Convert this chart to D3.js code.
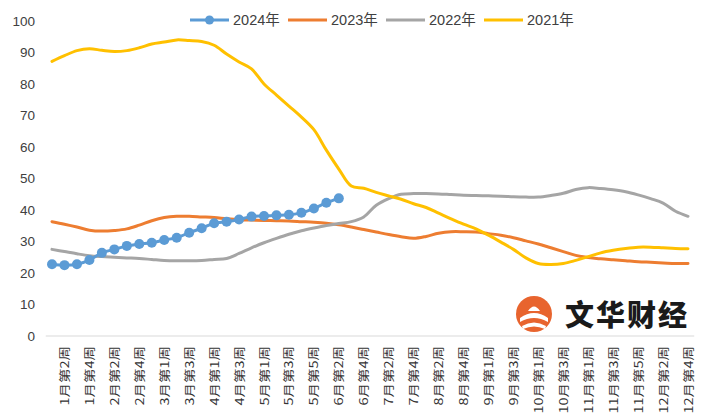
<!DOCTYPE html>
<html>
<head>
<meta charset="utf-8">
<script src="https://cdn.jsdelivr.net/npm/d3@7/dist/d3.min.js"></script>
<style>
  html, body { margin: 0; padding: 0; background: #fff; }
  svg { display: block; }
</style>
</head>
<body>
<svg id="chart" width="719" height="417"></svg>
<script>
// ---------- data ----------
const categories = [
  "1月第1周","1月第2周","1月第3周","1月第4周","2月第1周","2月第2周","2月第3周","2月第4周",
  "2月第5周","3月第1周","3月第2周","3月第3周","3月第4周","4月第1周","4月第2周","4月第3周",
  "4月第4周","5月第1周","5月第2周","5月第3周","5月第4周","5月第5周","6月第1周","6月第2周",
  "6月第3周","6月第4周","7月第1周","7月第2周","7月第3周","7月第4周","8月第1周","8月第2周",
  "8月第3周","8月第4周","8月第5周","9月第1周","9月第2周","9月第3周","9月第4周","10月第1周",
  "10月第2周","10月第3周","10月第4周","11月第1周","11月第2周","11月第3周","11月第4周","11月第5周",
  "12月第1周","12月第2周","12月第3周","12月第4周"
];
const yTicks = [0,10,20,30,40,50,60,70,80,90,100];
const seriesNames = ["2024年","2023年","2022年","2021年"];

const s2024 = [22.8,22.5,22.8,24.1,26.4,27.5,28.6,29.2,29.6,30.5,31.2,32.8,34.2,35.8,36.3,37.0,
  37.9,38.1,38.3,38.5,39.1,40.5,42.3,43.7];
const s2023 = [36.3,35.5,34.6,33.6,33.3,33.5,34.0,35.2,36.6,37.6,38.0,38.0,37.8,37.6,37.2,36.9,
  36.8,36.7,36.6,36.5,36.3,36.1,35.8,35.3,34.6,33.8,33.0,32.2,31.5,31.0,31.6,32.6,
  33.1,33.1,33.0,32.5,32.0,31.2,30.2,29.2,28.0,26.8,25.6,24.9,24.5,24.2,23.9,23.6,
  23.4,23.2,23.0,23.0];
const s2022 = [27.5,26.8,26.1,25.5,25.2,25.0,24.8,24.6,24.3,24.0,23.9,23.9,24.0,24.3,24.6,26.2,
  28.0,29.6,31.0,32.3,33.4,34.3,35.1,35.7,36.3,37.8,41.5,43.6,45.0,45.2,45.2,45.1,
  44.9,44.7,44.6,44.5,44.4,44.2,44.1,44.1,44.6,45.3,46.5,47.1,46.8,46.4,45.8,44.8,
  43.6,42.2,39.6,38.0];
const s2021 = [87.2,89.0,90.6,91.2,90.7,90.3,90.6,91.5,92.7,93.3,94.0,93.8,93.5,92.3,89.5,87.0,
  84.8,80.0,76.5,73.0,69.5,65.5,59.0,53.0,47.6,46.9,45.6,44.5,43.4,42.0,40.8,39.0,
  37.2,35.5,34.0,32.0,29.8,27.5,24.8,23.0,22.7,23.0,24.0,25.2,26.4,27.2,27.8,28.2,
  28.2,28.0,27.8,27.7];

const colors = ["#5B9BD5","#ED7D31","#A5A5A5","#FFC000"];

// ---------- layout ----------
const svg = d3.select("#chart");
const x = d3.scalePoint().domain(categories).range([52, 688]);
const y = d3.scaleLinear().domain([0, 100]).range([336, 21]);
const step = x.step();

// y tick labels
svg.append("g").selectAll("text").data(yTicks).join("text")
  .attr("x", 35).attr("y", d => y(d)).attr("dy", "0.35em")
  .attr("text-anchor", "end")
  .attr("font-family", "Liberation Sans, Arial, sans-serif")
  .attr("font-size", 13.5).attr("fill", "#404040")
  .text(d => d);

// x axis line
svg.append("line")
  .attr("x1", x(categories[0]) - step / 2).attr("x2", x(categories[categories.length - 1]) + step / 2)
  .attr("y1", y(0)).attr("y2", y(0))
  .attr("stroke", "#d9d9d9").attr("stroke-width", 1);

// x tick labels (every other category)
const labelCats = categories.filter((d, i) => i % 2 === 1);
svg.append("g").selectAll("text").data(labelCats).join("text")
  .attr("transform", d => `translate(${x(d) + 4.5},${y(0) + 10}) rotate(-90) scale(1.26,1)`)
  .attr("text-anchor", "end")
  .attr("font-family", "Noto Sans CJK SC, sans-serif")
  .attr("font-size", 11.5).attr("fill", "#333333")
  .text(d => d);

// watermark logo
const wm = svg.append("g");
wm.append("circle").attr("cx", 534).attr("cy", 314).attr("r", 18).attr("fill", "#E8642E");
wm.append("path").attr("d", "M520,318 Q534,308 548,318 L548,322 Q534,314 520,322 Z").attr("fill", "#fff");
wm.append("path").attr("d", "M522,326 Q534,319 546,326 L545,329 Q534,324 523,329 Z").attr("fill", "#fff");
wm.append("path").attr("d", "M528,311 Q534,302 540,311 Z").attr("fill", "#fff");
wm.append("text").attr("x", 565).attr("y", 326)
  .attr("font-family", "Noto Sans CJK SC, sans-serif").attr("font-weight", 900)
  .attr("font-size", 29).attr("letter-spacing", 2).attr("fill", "#1a1a1a")
  .text("文华财经");

// ---------- lines ----------
const line = d3.line()
  .x((d, i) => x(categories[i]))
  .y(d => y(d))
  .curve(d3.curveCatmullRom.alpha(0.5));

const series = [
  {name: seriesNames[1], values: s2023, color: colors[1]},
  {name: seriesNames[2], values: s2022, color: colors[2]},
  {name: seriesNames[3], values: s2021, color: colors[3]},
  {name: seriesNames[0], values: s2024, color: colors[0]}
];

series.forEach(s => {
  svg.append("path").datum(s.values)
    .attr("d", line)
    .attr("fill", "none")
    .attr("stroke", s.color)
    .attr("stroke-width", 3)
    .attr("stroke-linejoin", "round")
    .attr("stroke-linecap", "round");
});

svg.append("g").selectAll("circle").data(s2024).join("circle")
  .attr("cx", (d, i) => x(categories[i]))
  .attr("cy", d => y(d))
  .attr("r", 5)
  .attr("fill", colors[0]);

// ---------- legend ----------
const legendX = [190, 288, 386, 484];
const legend = svg.append("g");
seriesNames.forEach((name, i) => {
  const g = legend.append("g").attr("transform", `translate(${legendX[i]},20)`);
  g.append("line").attr("x1", 0).attr("x2", 39).attr("y1", 0).attr("y2", 0)
    .attr("stroke", colors[i]).attr("stroke-width", 3);
  if (i === 0) g.append("circle").attr("cx", 19.5).attr("cy", 0).attr("r", 4.5).attr("fill", colors[i]);
  g.append("text").attr("x", 43).attr("y", 0).attr("dy", "0.36em")
    .attr("font-family", "Liberation Sans, Noto Sans CJK SC, sans-serif")
    .attr("font-size", 14.5).attr("fill", "#404040")
    .text(name);
});
</script>
</body>
</html>
